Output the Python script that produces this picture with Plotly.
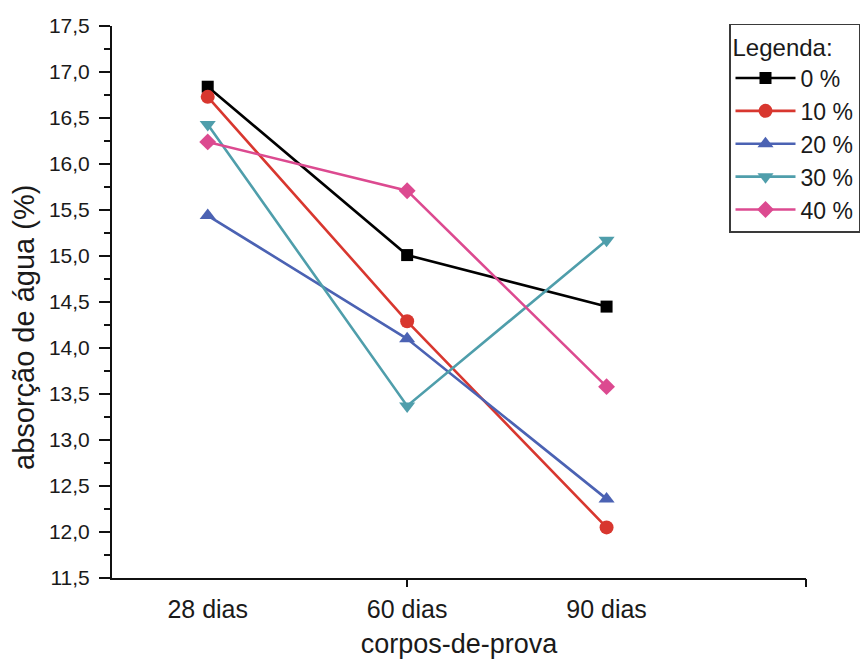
import plotly.graph_objects as go

# Water absorption (%) of test specimens at each curing age
categorias = ["28 dias", "60 dias", "90 dias"]
series_nomes = ["0 %", "10 %", "20 %", "30 %", "40 %"]
abs_0 = [16.84, 15.01, 14.45]
abs_10 = [16.73, 14.29, 12.05]
abs_20 = [15.44, 14.10, 12.36]
abs_30 = [16.43, 13.37, 15.17]
abs_40 = [16.24, 15.71, 13.58]
y_ticks = [11.5, 12.0, 12.5, 13.0, 13.5, 14.0, 14.5, 15.0, 15.5, 16.0, 16.5, 17.0, 17.5]

valores = [abs_0, abs_10, abs_20, abs_30, abs_40]
cores = ["#000000", "#d8372f", "#4b62b3", "#4f9eab", "#dc4a90"]
simbolos = ["square", "circle", "triangle-up", "triangle-down", "diamond"]
tamanhos = [12, 14, 14, 14, 13]

FONT = "Liberation Sans, Arial, sans-serif"
TXT = "#1a1a1a"

fig = go.Figure()
for nome, ys, cor, sim, tam in zip(series_nomes, valores, cores, simbolos, tamanhos):
    fig.add_trace(go.Scatter(
        x=categorias, y=ys, name=nome, mode="lines+markers",
        line=dict(color=cor, width=2.6),
        marker=dict(symbol=sim, size=tam, color=cor, line=dict(width=0)),
    ))

x_range = [-0.48, 3.0]

fig.update_layout(
    width=862, height=663,
    margin=dict(l=112, r=56, t=26, b=85, autoexpand=False),
    paper_bgcolor="white", plot_bgcolor="white",
    separators=",.",
    font=dict(family=FONT, color=TXT),
    showlegend=True,
    legend=dict(
        x=(729 - 112) / 694, y=1.004, xanchor="left", yanchor="top",
        bgcolor="rgba(255,255,255,0)", bordercolor="#3a3a3a", borderwidth=1.5,
        font=dict(family=FONT, size=23, color=TXT),
        title=dict(text="Legenda:", font=dict(family=FONT, size=24, color=TXT)),
        itemwidth=60, tracegroupgap=0,
    ),
    xaxis=dict(
        type="category", range=x_range,
        showline=True, linecolor="#111", linewidth=2,
        ticks="", showgrid=False, zeroline=False,
        ticklabelstandoff=8,
        tickfont=dict(family=FONT, size=25, color=TXT),
        title=dict(text="corpos-de-prova", font=dict(family=FONT, size=27, color=TXT), standoff=12),
    ),
    xaxis2=dict(
        overlaying="x", side="bottom", range=x_range,
        tickmode="array", tickvals=[1, 3],
        ticks="outside", ticklen=8, tickwidth=2, tickcolor="#111",
        showticklabels=False, showline=False, showgrid=False, zeroline=False,
    ),
    yaxis=dict(
        range=[11.5, 17.5], tickmode="array", tickvals=y_ticks, tickformat=".1f",
        showline=True, linecolor="#111", linewidth=2,
        ticks="outside", ticklen=11, tickwidth=2, tickcolor="#111",
        minor=dict(dtick=0.25, ticks="outside", ticklen=6, tickwidth=1.6, tickcolor="#111"),
        showgrid=False, zeroline=False,
        ticklabelstandoff=5,
        tickfont=dict(family=FONT, size=21, color=TXT),
    ),
    annotations=[dict(
        text="absorção de água (%)", textangle=-90,
        xref="paper", yref="paper",
        x=(24 - 112) / 694, y=(578 - 328) / 552,
        xanchor="center", yanchor="middle", showarrow=False,
        font=dict(family=FONT, size=29, color=TXT),
    )],
)

# invisible trace so the tick-only overlay axis is rendered
fig.add_trace(go.Scatter(x=[0], y=[12], xaxis="x2", mode="markers",
                         marker=dict(opacity=0), showlegend=False, hoverinfo="skip"))

fig.write_html("out.html")
